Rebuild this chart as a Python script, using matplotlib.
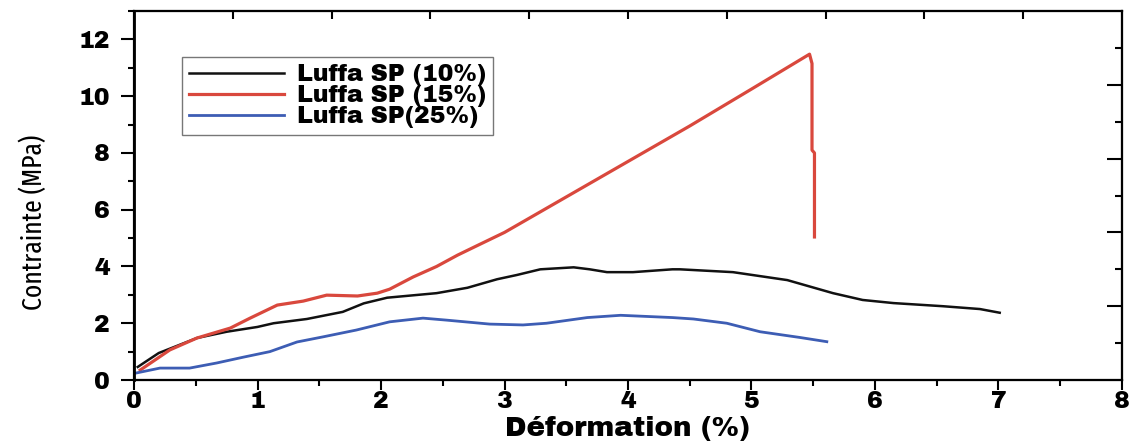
import numpy as np
import matplotlib
matplotlib.use("Agg")
import matplotlib.pyplot as plt
from matplotlib.ticker import MultipleLocator

# strain (%) / stress (MPa) curves
x_10 = [0.03, 0.2, 0.51, 0.75, 1.0, 1.13, 1.4, 1.69, 1.86, 2.05, 2.45, 2.7, 2.94, 3.1, 3.29,
        3.56, 3.69, 3.83, 4.04, 4.36, 4.42, 4.85, 5.29, 5.66, 5.9, 6.15, 6.55, 6.85, 7.01]
y_10 = [0.46, 0.95, 1.48, 1.7, 1.87, 2.0, 2.15, 2.4, 2.7, 2.9, 3.06, 3.25, 3.55, 3.7, 3.9,
        3.97, 3.9, 3.8, 3.8, 3.9, 3.9, 3.8, 3.52, 3.06, 2.82, 2.71, 2.6, 2.5, 2.37]

x_15 = [0.05, 0.29, 0.51, 0.78, 0.94, 1.16, 1.37, 1.56, 1.81, 1.97, 2.07, 2.26, 2.45, 2.62,
        2.8, 3.0, 3.5, 4.0, 4.5, 5.0, 5.47, 5.49, 5.49, 5.51, 5.51]
y_15 = [0.35, 1.06, 1.48, 1.83, 2.18, 2.64, 2.78, 2.99, 2.96, 3.06, 3.2, 3.63, 4.0, 4.4,
        4.78, 5.2, 6.45, 7.7, 8.95, 10.25, 11.48, 11.15, 8.1, 8.0, 5.04]

x_25 = [0.01, 0.21, 0.45, 0.67, 0.88, 1.1, 1.32, 1.53, 1.8, 2.07, 2.34, 2.53, 2.88, 3.15,
        3.34, 3.67, 3.94, 4.36, 4.53, 4.8, 5.07, 5.39, 5.61]
y_25 = [0.24, 0.42, 0.42, 0.6, 0.8, 1.0, 1.34, 1.52, 1.76, 2.05, 2.18, 2.11, 1.97, 1.94,
        2.0, 2.2, 2.28, 2.2, 2.15, 2.0, 1.7, 1.5, 1.35]

labels = ['Luffa SP (10%)', 'Luffa SP (15%)', 'Luffa SP(25%)']
colors = ['#111111', '#d9483d', '#3d5db4']

heavy = ['Archivo Black', 'DejaVu Sans']
narrow = ['Fira Sans Extra Condensed', 'Archivo Narrow', 'DejaVu Sans']

fig = plt.figure(figsize=(11.3, 4.41), dpi=100)
ax = fig.add_axes([0.1186, 0.1383, 0.8743, 0.8367])

ax.plot(x_10, y_10, color=colors[0], lw=1.8, label=labels[0])
ax.plot(x_15, y_15, color=colors[1], lw=2.3, label=labels[1])
ax.plot(x_25, y_25, color=colors[2], lw=2.0, label=labels[2])

ax.set_xlim(0, 8)
ax.set_ylim(0, 13)

ax.xaxis.set_major_locator(MultipleLocator(1))
ax.xaxis.set_minor_locator(MultipleLocator(0.5))
ax.yaxis.set_major_locator(MultipleLocator(2))
ax.yaxis.set_minor_locator(MultipleLocator(1))
ax.tick_params(axis='both', which='major', direction='out', width=1.5, labelsize=17,
               top=False, right=False)
ax.tick_params(axis='y', which='major', length=9.5, pad=8)
ax.tick_params(axis='x', which='major', length=7, pad=1)
ax.tick_params(axis='both', which='minor', direction='out', width=1.5, length=4,
               top=False, right=False)
for lab in ax.get_xticklabels() + ax.get_yticklabels():
    lab.set_family(heavy)

for s in ax.spines.values():
    s.set_linewidth(1.5)
ax.spines['left'].set_linewidth(2)

# odd ticks on the top and right edges, pointing in
axt = ax.twiny()
axt.set_xlim(0, 8)
axt.set_xticks(np.arange(0.8, 8, 0.8))
axt.tick_params(axis='x', direction='in', length=6, width=1.5, labeltop=False)
axr = ax.twinx()
axr.set_ylim(0, 13)
axr.set_yticks(np.arange(2.6, 13, 2.6))
axr.set_yticks(np.arange(1.3, 13, 2.6), minor=True)
axr.tick_params(axis='y', which='major', direction='in', length=11, width=1.5, labelright=False)
axr.tick_params(axis='y', which='minor', direction='in', length=5, width=1.5)
for a in (axt, axr):
    for s in a.spines.values():
        s.set_linewidth(1.5)

ax.set_xlabel('Déformation (%)', fontsize=20, family=heavy, labelpad=2)
ax.set_ylabel('Contrainte (MPa)', fontsize=20, family=narrow)
ax.yaxis.set_label_coords(-0.088, 0.428)

leg = ax.legend(loc='upper left', bbox_to_anchor=(0.0486, 0.875), borderaxespad=0,
                prop=dict(family=heavy, size=17),
                handlelength=4.0, handletextpad=0.55, labelspacing=-0.05,
                fancybox=False, borderpad=0.3, frameon=True)
leg.get_frame().set_edgecolor('#555555')
leg.get_frame().set_linewidth(1.0)

fig.savefig('out.png', dpi=100)
